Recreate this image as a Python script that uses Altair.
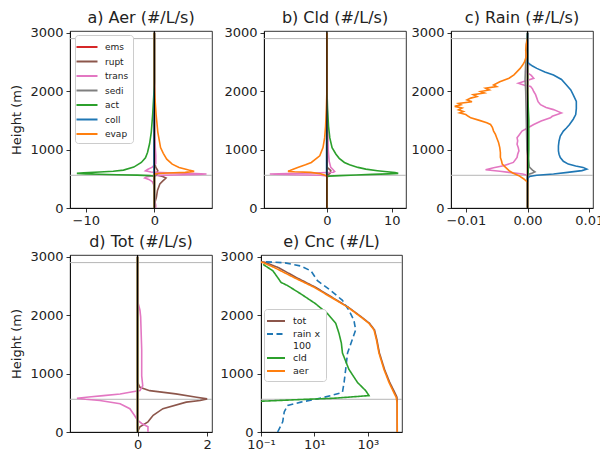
import altair as alt
import pandas as pd

# ---------------- data ----------------
PROC = ["ems", "rupt", "trans", "sedi", "act", "coll", "evap"]
PROC_COLORS = ["#d62728", "#8c564b", "#e377c2", "#7f7f7f", "#2ca02c", "#1f77b4", "#ff7f0e"]
HLINES = [560, 2900]
Y_TICKS = [0, 1000, 2000, 3000]

# a) Aer
A_EMS_Z = [0, 50, 100, 3000]
A_EMS_X = [0.05, 0.02, 0, 0]
A_RUPT_Z = [0, 100, 186, 300, 412, 460, 514, 540, 560, 581, 610, 640, 700, 800, 3000]
A_RUPT_X = [0, 0.1, 0.3, 0.45, 0.8, 1.2, 1.7, 1.2, 0.5, 0.3, 0.4, 0.5, 0.2, 0, 0]
A_TRANS_Z = [0, 50, 100, 200, 400, 450, 490, 514, 530, 548, 558, 565, 575, 583, 590, 598, 606, 615, 635, 660, 700, 760, 900, 1200, 1500, 3000]
A_TRANS_X = [0.2, 0.2, 0.1, 0, -0.1, -0.3, -0.8, -1.4, -1.2, -0.4, 0.5, 3, 6.5, 7.6, 6, 3, 1, -0.5, -1.3, -1.0, -0.3, 0.2, 0.2, 0.05, 0, 0]
A_SEDI_Z = [0, 540, 570, 600, 3000]
A_SEDI_X = [0, 0, 0.3, 0, 0]
A_ACT_Z = [0, 545, 555, 562, 570, 578, 585, 593, 602, 615, 630, 649, 700, 780, 860, 950, 1100, 1300, 1600, 1900, 2150, 3000]
A_ACT_X = [0, 0, -0.7, -2.5, -5.5, -8, -10, -11.3, -10.3, -8, -6, -4.5, -3.0, -1.9, -1.3, -1.0, -0.7, -0.45, -0.25, -0.1, 0, 0]
A_COLL_Z = [0, 560, 600, 1000, 2200, 3000]
A_COLL_X = [0, 0, -0.05, -0.05, 0, 0]
A_EVAP_Z = [0, 580, 590, 598, 610, 627, 650, 695, 750, 836, 936, 1034, 1300, 1600, 1850, 2100, 3000]
A_EVAP_X = [0, 0, 0.5, 2, 4.5, 5.8, 5.0, 3.6, 2.6, 1.8, 1.3, 0.9, 0.5, 0.25, 0.1, 0, 0]

# b) Cld
B_EMS_Z = [0, 3000]
B_EMS_X = [0, 0]
B_RUPT_Z = [0, 550, 600, 640, 700, 3000]
B_RUPT_X = [0, 0, 0.5, 0.6, 0, 0]
B_TRANS_Z = [0, 550, 560, 570, 577, 583, 590, 600, 612, 625, 650, 695, 800, 1000, 1500, 2000, 3000]
B_TRANS_X = [0, 0, -1, -5, -8, -8.8, -6, -2, 1.0, 1.2, 1.0, 0.6, 0.35, 0.2, 0.1, 0, 0]
B_SEDI_Z = [0, 3000]
B_SEDI_X = [0, 0]
B_ACT_Z = [0, 535, 545, 555, 565, 575, 585, 593, 605, 620, 639, 665, 695, 740, 780, 850, 920, 1034, 1200, 1400, 1700, 2050, 3000]
B_ACT_X = [0, 0, 0.3, 2, 4.5, 7, 9.5, 11.0, 10.5, 9.3, 7.8, 6.0, 4.8, 3.5, 2.7, 1.9, 1.4, 0.8, 0.45, 0.25, 0.1, 0, 0]
B_COLL_Z = [0, 560, 600, 1200, 2000, 3000]
B_COLL_X = [0, 0, -0.05, -0.05, 0, 0]
B_EVAP_Z = [0, 550, 565, 585, 610, 620, 627, 650, 695, 740, 780, 893, 1034, 1200, 1400, 1700, 2000, 3000]
B_EVAP_X = [0, 0, -0.4, -1.0, -2.5, -5, -6.0, -5.5, -4.5, -3.3, -2.4, -1.1, -0.6, -0.35, -0.2, -0.08, 0, 0]

# c) Rain
C_EMS_Z = [0, 3000]
C_EMS_X = [0, 0]
C_RUPT_Z = [0, 3000]
C_RUPT_X = [0, 0]
C_TRANS_Z = [0, 560, 582, 610, 630, 655, 690, 723, 780, 865, 920, 978, 1030, 1091, 1150, 1204, 1260, 1317, 1370, 1430, 1490, 1543, 1570, 1600, 1627, 1650, 1684, 1720, 1768, 1820, 1881, 1940, 1994, 2040, 2079, 2100, 2135, 2170, 2220, 2270, 2334, 2390, 2450, 2600, 2800, 3000]
C_TRANS_X = [0, 0, -0.0008, -0.003, -0.0045, -0.0068, -0.0055, -0.0039, -0.0023, -0.0017, -0.0016, -0.0014, -0.0015, -0.0017, -0.0016, -0.0017, -0.0013, -0.0009, 0.0, 0.0010, 0.0022, 0.0037, 0.0040, 0.0048, 0.0055, 0.0050, 0.0042, 0.0030, 0.0021, 0.0017, 0.0015, 0.0013, 0.0010, 0.0008, 0.0005, -0.0005, -0.0015, -0.0005, 0.0010, 0.0006, -0.0003, 0, 0.0002, -0.0001, 0.0001, 0]
C_SEDI_Z = [0, 560, 580, 600, 620, 650, 700, 1000, 1500, 2000, 2200, 2500, 2800, 3000]
C_SEDI_X = [0, 0, 0.0002, 0.0008, 0.0012, 0.0008, 0.0003, -0.0001, -0.0002, -0.0003, -0.0004, -0.0003, -0.0002, 0]
C_ACT_Z = [0, 560, 600, 1000, 1500, 2000, 3000]
C_ACT_X = [0, 0, 0.0001, 0.0002, 0.0002, 0, 0]
C_COLL_Z = [0, 500, 540, 560, 582, 610, 640, 665, 695, 720, 752, 800, 865, 920, 978, 1060, 1148, 1230, 1317, 1370, 1430, 1520, 1599, 1700, 1825, 1938, 2020, 2107, 2200, 2277, 2330, 2390, 2430, 2475, 2500, 3000]
C_COLL_X = [0, 0, 0.0003, 0.0015, 0.0042, 0.0065, 0.0088, 0.0096, 0.0090, 0.0078, 0.0066, 0.0058, 0.0053, 0.0051, 0.0050, 0.0050, 0.0051, 0.0053, 0.0058, 0.0063, 0.0068, 0.0074, 0.0078, 0.0079, 0.0079, 0.0074, 0.0070, 0.0063, 0.0055, 0.0042, 0.0028, 0.0015, 0.0008, 0.0002, 0, 0]
C_EVAP_Z = [0, 441, 497, 553, 600, 639, 700, 752, 800, 865, 950, 1035, 1120, 1204, 1260, 1317, 1380, 1430, 1460, 1500, 1543, 1570, 1600, 1627, 1650, 1680, 1712, 1740, 1768, 1790, 1820, 1850, 1881, 1910, 1940, 1970, 1994, 2020, 2050, 2080, 2107, 2160, 2221, 2280, 2334, 2390, 2447, 2500, 2600, 2700, 2800, 2900]
C_EVAP_X = [0, 0, -0.0006, -0.0014, -0.0024, -0.0030, -0.0036, -0.0041, -0.0042, -0.0044, -0.0044, -0.0045, -0.0047, -0.0050, -0.0052, -0.0055, -0.0057, -0.0060, -0.0066, -0.0078, -0.0092, -0.0096, -0.0100, -0.0110, -0.0104, -0.0112, -0.0106, -0.0118, -0.0108, -0.0112, -0.0090, -0.0098, -0.0092, -0.0082, -0.0088, -0.0070, -0.0076, -0.0062, -0.0068, -0.0050, -0.0055, -0.0045, -0.0030, -0.0022, -0.0017, -0.0012, -0.0008, -0.0005, -0.0002, -0.0003, -0.0002, 0]

# d) Tot
D_EMS_Z = [0, 30, 60, 3000]
D_EMS_X = [0.02, 0.01, 0, 0]
D_RUPT_Z = [0, 90, 174, 286, 399, 511, 540, 567, 595, 652, 708, 764, 850, 3000]
D_RUPT_X = [0, 0.07, 0.3, 0.45, 0.73, 1.4, 1.8, 2.0, 1.7, 1.1, 0.35, 0.07, 0, 0]
D_TRANS_Z = [0, 17, 90, 146, 202, 286, 399, 483, 539, 560, 578, 600, 623, 650, 680, 708, 792, 960, 1415, 1971, 2084, 2200, 2500, 3000]
D_TRANS_X = [0.3, 0.3, 0.3, 0.12, 0, -0.09, -0.22, -0.5, -1.08, -1.5, -1.74, -1.4, -0.98, -0.5, -0.22, 0.07, 0.15, 0.12, 0.12, 0.09, 0.07, 0.02, 0.01, 0]
D_SEDI_Z = [0, 3000]
D_SEDI_X = [0, 0]
D_ACT_Z = [0, 3000]
D_ACT_X = [0, 0]
D_COLL_Z = [0, 3000]
D_COLL_X = [0, 0]
D_EVAP_Z = [0, 3000]
D_EVAP_X = [0, 0]

# e) Cnc (#/L)
CNC = ["tot", "rain x 100", "cld", "aer"]
CNC_COLORS = ["#8c564b", "#1f77b4", "#2ca02c", "#ff7f0e"]
E_TOT_Z = [0, 500, 595, 679, 848, 1073, 1353, 1579, 1747, 1859, 1971, 2140, 2308, 2477, 2645, 2814, 2900, 2950]
E_TOT_X = [12600, 12500, 12300, 10100, 6600, 4200, 2710, 2180, 1780, 1160, 570, 180, 45, 11, 2.1, 0.45, 0.15, 0.05]
E_RAIN_Z = [0, 174, 343, 455, 511, 567, 623, 679, 848, 1073, 1353, 1579, 1747, 1915, 2084, 2253, 2421, 2590, 2758, 2842, 2898, 2915]
E_RAIN_X = [0.42, 0.65, 0.74, 1.0, 3.1, 13, 41, 112, 129, 148, 174, 260, 350, 300, 195, 112, 41, 13, 7.4, 3.1, 0.74, 0.115]
E_CLD_Z = [0, 500, 528, 556, 578, 623, 708, 848, 1073, 1353, 1521, 1690, 1859, 2027, 2196, 2364, 2505, 2561, 2645, 2758, 2870]
E_CLD_X = [0.02, 0.02, 0.12, 3.1, 54, 1100, 830, 410, 195, 112, 102, 83, 63, 31, 11, 3.1, 1.0, 0.56, 0.42, 0.28, 0.12]
E_AER_Z = [0, 500, 595, 679, 848, 1073, 1353, 1579, 1747, 1859, 1971, 2140, 2308, 2477, 2645, 2814, 2900, 2950]
E_AER_X = [12600, 12500, 11500, 9300, 6200, 4000, 2600, 2100, 1700, 1100, 540, 174, 41, 9.8, 1.7, 0.32, 0.12, 0.03]


def table(series):
    rows = []
    for name, zs, xs in series:
        for z, x in zip(zs, xs):
            rows.append({"s": name, "h": z, "v": x})
    return pd.DataFrame(rows)


FONT = "DejaVu Sans"
W, H = 142, 177
Y_DOM = [0, 3030]
LINE_SYM = "M-1.5,0L1.5,0"


def ptitle(text):
    return alt.TitleParams(text, frame="group", offset=1)


def panel(series, xdom, xticks, fmt, title, ytitle, legend):
    df = table(series)
    yaxis = alt.Axis(values=Y_TICKS, format="d", title=ytitle if ytitle else None)
    yenc = alt.Y("h:Q", scale=alt.Scale(domain=Y_DOM, nice=False), axis=yaxis)
    hr = alt.Chart(pd.DataFrame({"h": HLINES})).mark_rule(color="#b5b5b5", strokeWidth=1).encode(y=alt.Y("h:Q"))
    lines = alt.Chart(df).mark_line(strokeWidth=1.6, clip=True).encode(
        x=alt.X("v:Q", scale=alt.Scale(domain=xdom, nice=False, zero=False),
                axis=alt.Axis(values=xticks, format=fmt, title=None, labelPadding=2)),
        y=yenc,
        color=alt.Color("s:N", scale=alt.Scale(domain=PROC, range=PROC_COLORS), legend=legend),
        order=alt.Order("h:Q"),
    )
    vr = alt.Chart(pd.DataFrame({"v": [0]})).mark_rule(color="black", strokeWidth=1.1).encode(x=alt.X("v:Q"))
    return alt.layer(hr, lines, vr).properties(width=W, height=H, title=ptitle(title))


legend_a = alt.Legend(title=None, orient="none", legendX=5, legendY=4, fillColor="white",
                      strokeColor="#cccccc", cornerRadius=3, padding=4, labelFontSize=9,
                      symbolType=LINE_SYM, symbolSize=196, symbolStrokeWidth=2, rowPadding=1.5,
                      labelOffset=10)

pa = panel([("ems", A_EMS_Z, A_EMS_X), ("rupt", A_RUPT_Z, A_RUPT_X), ("trans", A_TRANS_Z, A_TRANS_X),
            ("sedi", A_SEDI_Z, A_SEDI_X), ("act", A_ACT_Z, A_ACT_X), ("coll", A_COLL_Z, A_COLL_X),
            ("evap", A_EVAP_Z, A_EVAP_X)],
           [-12.3, 8.4], [-10, 0], "d", "a) Aer (#/L/s)", "Height (m)", legend_a)
pb = panel([("ems", B_EMS_Z, B_EMS_X), ("rupt", B_RUPT_Z, B_RUPT_X), ("trans", B_TRANS_Z, B_TRANS_X),
            ("sedi", B_SEDI_Z, B_SEDI_X), ("act", B_ACT_Z, B_ACT_X), ("coll", B_COLL_Z, B_COLL_X),
            ("evap", B_EVAP_Z, B_EVAP_X)],
           [-9.7, 12.2], [0, 10], "d", "b) Cld (#/L/s)", None, None)
pc = panel([("ems", C_EMS_Z, C_EMS_X), ("rupt", C_RUPT_Z, C_RUPT_X), ("trans", C_TRANS_Z, C_TRANS_X),
            ("sedi", C_SEDI_Z, C_SEDI_X), ("act", C_ACT_Z, C_ACT_X), ("coll", C_COLL_Z, C_COLL_X),
            ("evap", C_EVAP_Z, C_EVAP_X)],
           [-0.0124, 0.0106], [-0.01, 0, 0.01], ".2f", "c) Rain (#/L/s)", None, None)
pd_ = panel([("ems", D_EMS_Z, D_EMS_X), ("rupt", D_RUPT_Z, D_RUPT_X), ("trans", D_TRANS_Z, D_TRANS_X),
             ("sedi", D_SEDI_Z, D_SEDI_X), ("act", D_ACT_Z, D_ACT_X), ("coll", D_COLL_Z, D_COLL_X),
             ("evap", D_EVAP_Z, D_EVAP_X)],
            [-1.94, 2.14], [0, 2], "d", "d) Tot (#/L/s)", "Height (m)", None)

# panel e
edf = table([("tot", E_TOT_Z, E_TOT_X), ("rain x 100", E_RAIN_Z, E_RAIN_X),
             ("cld", E_CLD_Z, E_CLD_X), ("aer", E_AER_Z, E_AER_X)])
legend_e = alt.Legend(title=None, orient="none", legendX=3, legendY=54, fillColor="white",
                      strokeColor="#cccccc", cornerRadius=3, padding=5, labelFontSize=9.5,
                      symbolType=LINE_SYM, symbolSize=144, symbolStrokeWidth=2, rowPadding=1,
                      labelOffset=10,
                      labelExpr="datum.label == 'rain x 100' ? ['rain x', ' 100'] : datum.label")
e_hr = alt.Chart(pd.DataFrame({"h": HLINES})).mark_rule(color="#b5b5b5", strokeWidth=1).encode(y=alt.Y("h:Q"))
e_lines = alt.Chart(edf).mark_line(strokeWidth=1.6, clip=True).encode(
    x=alt.X("v:Q", scale=alt.Scale(type="log", domain=[0.1, 19000], nice=False),
            axis=alt.Axis(values=[0.1, 10, 1000], title=None, labelPadding=2,
                          labelExpr="datum.value < 1 ? '10⁻¹' : datum.value < 100 ? '10¹' : '10³'")),
    y=alt.Y("h:Q", scale=alt.Scale(domain=Y_DOM, nice=False),
            axis=alt.Axis(values=Y_TICKS, format="d", title=None, labelPadding=4)),
    color=alt.Color("s:N", scale=alt.Scale(domain=CNC, range=CNC_COLORS), legend=legend_e),
    strokeDash=alt.StrokeDash("s:N", scale=alt.Scale(domain=CNC, range=[[1, 0], [6, 3.5], [1, 0], [1, 0]]),
                              legend=legend_e),
    order=alt.Order("h:Q"),
)
pe = alt.layer(e_hr, e_lines).properties(width=W - 1, height=H, title=ptitle("e) Cnc (#/L)"))

ab = alt.hconcat(pa, pb, spacing=10).resolve_scale(color="independent", strokeDash="independent")
top = alt.hconcat(ab, pc, spacing=3).resolve_scale(color="independent", strokeDash="independent")
bot = alt.hconcat(pd_, pe, spacing=6).resolve_scale(color="independent", strokeDash="independent")
chart = alt.vconcat(top, bot, spacing=5).resolve_scale(color="independent", strokeDash="independent")

chart = chart.properties(
    autosize=alt.AutoSizeParams(type="none"),
    padding={"left": 62, "top": 23, "right": 530, "bottom": 421},
).configure(
    font=FONT
).configure_view(stroke="black", strokeWidth=0.8).configure_axis(
    grid=False, domainColor="black", domainWidth=0.8, tickColor="black", tickSize=4, tickWidth=0.8,
    labelFontSize=13, labelColor="#222222", labelPadding=3, titleFontSize=13, titleFontWeight="normal",
    titleColor="#222222", titlePadding=6, labelFlush=False
).configure_title(fontSize=16, fontWeight="normal", color="#222222", anchor="middle"
).configure_legend(labelColor="#222222")

chart.save("out.html", embed_options={"renderer": "svg", "actions": False})
